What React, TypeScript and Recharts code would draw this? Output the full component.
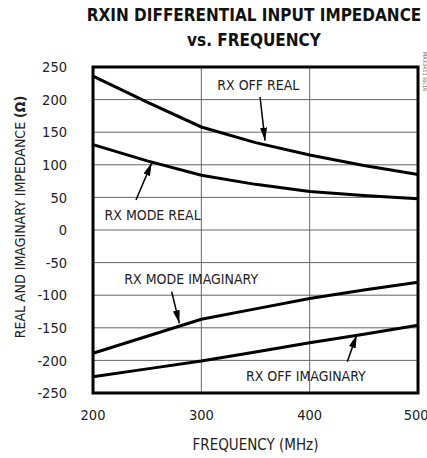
import {
  LineChart,
  Line,
  XAxis,
  YAxis,
  CartesianGrid,
  ReferenceArea,
  ReferenceLine,
  ReferenceDot,
  Label,
} from 'recharts'

const frequencies = [200, 250, 300, 350, 400, 450, 500]
const rxOffReal = [236, 196, 158, 134, 115, 99, 85]
const rxModeReal = [131, 106, 84, 70, 59, 53, 48]
const rxModeImag = [-189, -163, -137, -121, -105, -92, -80]
const rxOffImag = [-225, -213, -201, -187, -173, -160, -146]

const xTicks = [200, 300, 400, 500]
const yTicks = [-250, -200, -150, -100, -50, 0, 50, 100, 150, 200, 250]

const series = [
  { key: 'offReal', values: rxOffReal },
  { key: 'modeReal', values: rxModeReal },
  { key: 'modeImag', values: rxModeImag },
  { key: 'offImag', values: rxOffImag },
]

// callout labels and arrows, in data units (MHz, ohms)
const callouts = [
  { text: 'RX OFF REAL', at: { x: 352.6, y: 222 }, from: { x: 354.2, y: 204 }, to: { x: 358.8, y: 137 } },
  { text: 'RX MODE REAL', at: { x: 255, y: 23 }, from: { x: 239.7, y: 46 }, to: { x: 254.2, y: 103 } },
  { text: 'RX MODE IMAGINARY', at: { x: 290.7, y: -75.6 }, from: { x: 272.6, y: -94.6 }, to: { x: 279.7, y: -143 } },
  { text: 'RX OFF IMAGINARY', at: { x: 396.5, y: -224 }, from: { x: 434.7, y: -202 }, to: { x: 443.4, y: -161 } },
]

const data = frequencies.map((f, i) => {
  const row: Record<string, number> = { f }
  series.forEach((s) => (row[s.key] = s.values[i]))
  return row
})

const FONT = "'Liberation Sans Narrow', 'Arial Narrow', 'DejaVu Sans Condensed', sans-serif"
const TEXT = '#222'

export default function App() {
  return (
    <div style={{ position: 'absolute', left: 0, top: 0, width: 427, height: 458, background: '#fff' }}>
      <LineChart
        width={427}
        height={458}
        data={data}
        margin={{ top: 67, right: 9, bottom: 0, left: 0 }}
        style={{ position: 'absolute', left: 0, top: 0 }}
      >
        <defs>
          <marker
            id="arrowHead"
            markerWidth={13}
            markerHeight={7}
            refX={13}
            refY={3.5}
            orient="auto"
            markerUnits="userSpaceOnUse"
          >
            <path d="M0,0 L13,3.5 L0,7 z" fill="#000" />
          </marker>
        </defs>
        <CartesianGrid stroke="#666" strokeWidth={1} />
        <XAxis
          dataKey="f"
          type="number"
          domain={[200, 500]}
          ticks={xTicks}
          axisLine={false}
          tickLine={false}
          tickMargin={11}
          height={65}
          tick={{ fontFamily: FONT, fontSize: 14.5, fill: TEXT }}
        >
          <Label
            value="FREQUENCY (MHz)"
            position="insideBottom"
            offset={8}
            style={{ fontFamily: FONT, fontSize: 15, fill: TEXT }}
          />
        </XAxis>
        <YAxis
          type="number"
          domain={[-250, 250]}
          ticks={yTicks}
          axisLine={false}
          tickLine={false}
          tickMargin={20}
          width={93}
          interval={0}
          tick={{ fontFamily: FONT, fontSize: 14.5, fill: TEXT }}
        >
          <Label
            content={() => (
              <text
                x={20}
                y={217}
                transform="rotate(-90 20 217)"
                textAnchor="middle"
                dominantBaseline="central"
                fontFamily={FONT}
                fontSize={14}
                fill={TEXT}
              >
                REAL AND IMAGINARY IMPEDANCE <tspan fontWeight="bold">(Ω)</tspan>
              </text>
            )}
          />
        </YAxis>
        {series.map((s) => (
          <Line
            key={s.key}
            dataKey={s.key}
            type="linear"
            stroke="#000"
            strokeWidth={3}
            dot={false}
            activeDot={false}
            isAnimationActive={false}
          />
        ))}
        <ReferenceArea x1={200} x2={500} y1={-250} y2={250} fill="none" stroke="#000" strokeWidth={3} />
        {callouts.map((c) => (
          <ReferenceLine
            key={c.text + '-arrow'}
            segment={[c.from, c.to]}
            stroke="#000"
            strokeWidth={1.5}
            markerEnd="url(#arrowHead)"
          />
        ))}
        {callouts.map((c) => (
          <ReferenceDot
            key={c.text}
            x={c.at.x}
            y={c.at.y}
            r={0}
            shape={(p: { cx: number; cy: number }) => (
              <text
                x={p.cx}
                y={p.cy}
                textAnchor="middle"
                dominantBaseline="central"
                fontFamily={FONT}
                fontSize={14}
                fill={TEXT}
              >
                {c.text}
              </text>
            )}
          />
        ))}
        <text
          x={423}
          y={52}
          transform="rotate(90 423 52)"
          fontFamily={FONT}
          fontSize={5.5}
          fill="#666"
        >
          MAX3411 toc16
        </text>
      </LineChart>
      <div
        style={{
          position: 'absolute',
          left: 0,
          top: 3,
          width: 508,
          textAlign: 'center',
          fontFamily: FONT,
          fontWeight: 'bold',
          fontSize: 17,
          lineHeight: '25px',
          color: '#111',
        }}
      >
        RXIN DIFFERENTIAL INPUT IMPEDANCE
        <br />
        vs. FREQUENCY
      </div>
    </div>
  )
}
